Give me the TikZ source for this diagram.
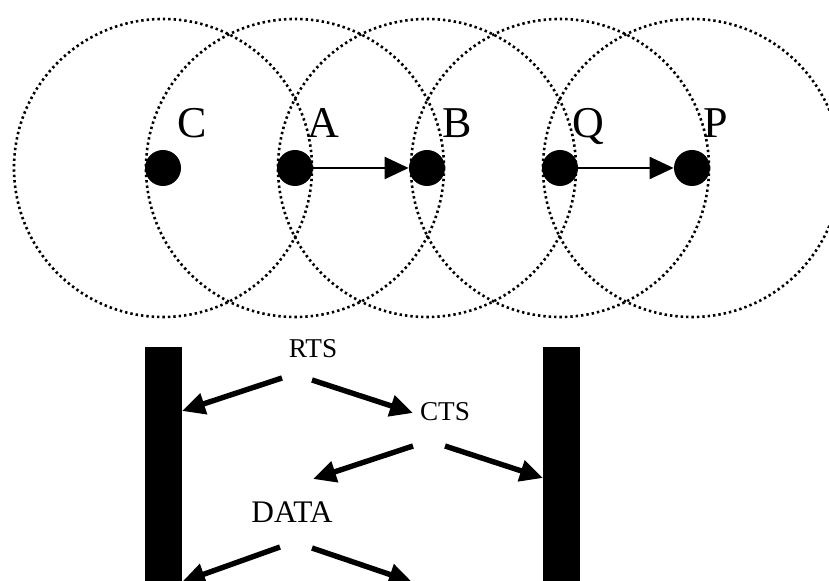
\documentclass[tikz,border=0pt]{standalone}
\usepackage{fontspec}
\setmainfont{Liberation Serif}
\usetikzlibrary{arrows.meta}
\begin{document}
\begin{tikzpicture}[x=0.5pt,y=-0.5pt,
  rangecircle/.style={line width=1.3pt, dash pattern=on 1.2pt off 1.5pt},
  station/.style={circle, fill=black, minimum size=18pt, inner sep=0pt},
  nodelabel/.style={font=\fontsize{22}{24}\selectfont, inner sep=0pt, anchor=base west},
  link/.style={line width=1.1pt, -{Triangle[length=12pt,width=11pt]}},
  msg/.style={font=\fontsize{13.6}{15}\selectfont, inner sep=0pt},
  datamsg/.style={font=\fontsize{15.7}{17}\selectfont, inner sep=0pt},
  bigarrow/.style={line width=2.7pt, -{Triangle[length=11.5pt,width=10.5pt]}},
  bar/.style={fill=black, draw=none, minimum width=18.5pt, minimum height=130pt, inner sep=0pt, anchor=north}]
\useasboundingbox (0,0) rectangle (829,581);
\clip (0,0) rectangle (829,581);
% stations
\node[station] (C) at (163,168) {};
\node[station] (A) at (295,168) {};
\node[station] (B) at (427,168) {};
\node[station] (Q) at (560,168) {};
\node[station] (P) at (692,168) {};
% ranges
\foreach \s in {C,A,B,Q,P}
  \draw[rangecircle] (\s.center) circle[radius=149];
% labels
\node[nodelabel] (lC) at (177,138) {C};
\node[nodelabel] (lA) at (307,138) {A};
\node[nodelabel] (lB) at (442,138) {B};
\node[nodelabel] (lQ) at (572,138) {Q};
\node[nodelabel] (lP) at (703,138) {P};
% transmissions
\draw[link] (A) -- (B);
\draw[link] (Q) -- (P);
% bars
\node[bar] (lbar) at (163.5,347) {};
\node[bar] (rbar) at (561.5,347) {};
% messages
\node[msg] (RTS) at (313,349) {RTS};
\node[msg] (CTS) at (445,412) {CTS};
\node[datamsg] (DATA) at (292,512) {DATA};
% arrow end points
\coordinate (rtsL) at (282,378);
\coordinate (rtsR) at (312,380);
\coordinate (ctsL) at (413,446);
\coordinate (ctsR) at (445,446);
\coordinate (dataL) at (280,547);
\coordinate (dataR) at (312,548);
\coordinate (tipRL) at (182,411);
\coordinate (tipRR) at (413,413);
\coordinate (tipCL) at (313,479);
\coordinate (tipCR) at (543,478);
\coordinate (tipDL) at (182,582);
\coordinate (tipDR) at (412,582);
\draw[bigarrow] (rtsL) -- (tipRL);
\draw[bigarrow] (rtsR) -- (tipRR);
\draw[bigarrow] (ctsL) -- (tipCL);
\draw[bigarrow] (ctsR) -- (tipCR);
\draw[bigarrow] (dataL) -- (tipDL);
\draw[bigarrow] (dataR) -- (tipDR);
\end{tikzpicture}
\end{document}
